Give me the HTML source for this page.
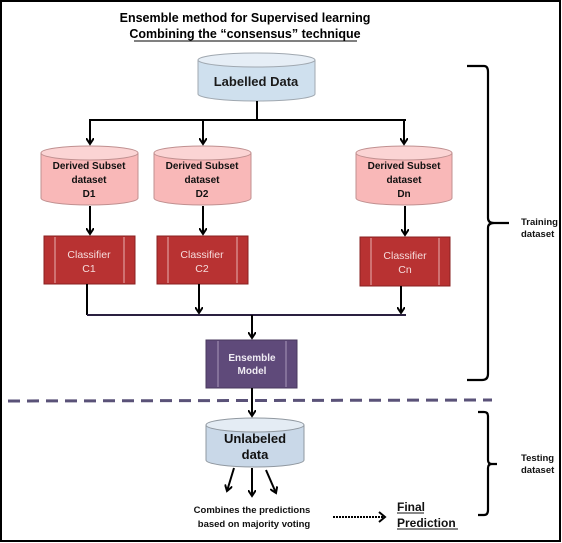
<!DOCTYPE html>
<html><head><style>
html,body{margin:0;padding:0;background:#fff;}
svg{display:block;font-family:"Liberation Sans",sans-serif;}
.b{font-weight:bold;}
</style></head><body>
<svg width="562" height="543" viewBox="0 0 562 543">
<defs>
<marker id="ar" markerWidth="8" markerHeight="8" refX="6" refY="4" orient="auto" markerUnits="userSpaceOnUse">
<path d="M0,0 L6,4 L0,8" fill="none" stroke="#000" stroke-width="2"/>
</marker>
</defs>
<rect x="1" y="1" width="559" height="540" fill="#fff" stroke="#000" stroke-width="2"/>
<text x="245" y="22" text-anchor="middle" font-size="12.5" class="b">Ensemble method for Supervised learning</text>
<text x="245" y="38" text-anchor="middle" font-size="12.5" class="b">Combining the “consensus” technique</text>
<line x1="134" y1="41" x2="357" y2="41" stroke="#000" stroke-width="1"/>

<g stroke="#a0a8b0" stroke-width="1">
<path d="M198,60 V94 A58.5,7 0 0 0 315,94 V60" fill="#cfe0ee"/>
<ellipse cx="256.5" cy="60" rx="58.5" ry="7" fill="#e6eef6"/>
</g>
<text x="256" y="86" text-anchor="middle" font-size="13" class="b" fill="#1a1a1a">Labelled Data</text>

<g stroke="#000" stroke-width="2" fill="none">
<line x1="257" y1="101" x2="257" y2="120"/>
<line x1="89" y1="120" x2="406" y2="120"/>
<line x1="90" y1="120" x2="90" y2="144" marker-end="url(#ar)"/>
<line x1="203" y1="120" x2="203" y2="144" marker-end="url(#ar)"/>
<line x1="404" y1="120" x2="404" y2="144" marker-end="url(#ar)"/>
</g>

<g stroke="#c09090" stroke-width="1">
<path d="M41,153 V198 A48.5,7 0 0 0 138,198 V153" fill="#f9b8b8"/>
<ellipse cx="89.5" cy="153" rx="48.5" ry="7" fill="#fbd4d4"/>
<path d="M154,153 V198 A48.5,7 0 0 0 251,198 V153" fill="#f9b8b8"/>
<ellipse cx="202.5" cy="153" rx="48.5" ry="7" fill="#fbd4d4"/>
<path d="M356,153 V198 A48,7 0 0 0 452,198 V153" fill="#f9b8b8"/>
<ellipse cx="404" cy="153" rx="48" ry="7" fill="#fbd4d4"/>
</g>
<g font-size="10" class="b" text-anchor="middle" fill="#111">
<text x="89" y="169">Derived Subset</text><text x="89" y="183">dataset</text><text x="89" y="197">D1</text>
<text x="202" y="169">Derived Subset</text><text x="202" y="183">dataset</text><text x="202" y="197">D2</text>
<text x="404" y="169">Derived Subset</text><text x="404" y="183">dataset</text><text x="404" y="197">Dn</text>
</g>
<g stroke="#000" stroke-width="2">
<line x1="90" y1="206" x2="90" y2="234" marker-end="url(#ar)"/>
<line x1="203" y1="206" x2="203" y2="234" marker-end="url(#ar)"/>
<line x1="405" y1="206" x2="405" y2="235" marker-end="url(#ar)"/>
</g>

<g fill="#b83232" stroke="#8a2020" stroke-width="1">
<rect x="44" y="236" width="91" height="48"/>
<rect x="157" y="236" width="91" height="48"/>
<rect x="360" y="237" width="90" height="49"/>
</g>
<g stroke="#e9b0b0" stroke-width="1">
<line x1="55" y1="237" x2="55" y2="283"/><line x1="124" y1="237" x2="124" y2="283"/>
<line x1="168" y1="237" x2="168" y2="283"/><line x1="237" y1="237" x2="237" y2="283"/>
<line x1="371" y1="238" x2="371" y2="285"/><line x1="439" y1="238" x2="439" y2="285"/>
</g>
<g font-size="10.5" text-anchor="middle" fill="#f6dcdc">
<text x="89" y="258">Classifier</text><text x="89" y="272">C1</text>
<text x="202" y="258">Classifier</text><text x="202" y="272">C2</text>
<text x="405" y="259">Classifier</text><text x="405" y="273">Cn</text>
</g>

<g stroke="#000" stroke-width="2" fill="none">
<line x1="87" y1="284" x2="87" y2="315"/>
<line x1="199" y1="284" x2="199" y2="313" marker-end="url(#ar)"/>
<line x1="401" y1="286" x2="401" y2="313" marker-end="url(#ar)"/>
<line x1="87" y1="315" x2="406" y2="315" stroke="#2a2040"/>
<line x1="252" y1="315" x2="252" y2="338" marker-end="url(#ar)"/>
</g>

<rect x="206" y="340" width="91" height="48" fill="#5f4a7a" stroke="#48385e"/>
<line x1="218" y1="341" x2="218" y2="387" stroke="#a898bb"/>
<line x1="286" y1="341" x2="286" y2="387" stroke="#a898bb"/>
<text x="252" y="361" text-anchor="middle" font-size="10" class="b" fill="#f0ecf4">Ensemble</text>
<text x="252" y="374" text-anchor="middle" font-size="10" class="b" fill="#f0ecf4">Model</text>

<line x1="8" y1="401" x2="492" y2="400" stroke="#5a5278" stroke-width="3" stroke-dasharray="12,7"/>
<line x1="252" y1="388" x2="252" y2="416" stroke="#000" stroke-width="2" marker-end="url(#ar)"/>

<g stroke="#9098a0" stroke-width="1">
<path d="M206,425 V460 A49,7 0 0 0 304,460 V425" fill="#c9d8e8"/>
<ellipse cx="255" cy="425" rx="49" ry="7" fill="#e4ecf4"/>
</g>
<text x="255" y="443" text-anchor="middle" font-size="13" class="b" fill="#111">Unlabeled</text>
<text x="255" y="459" text-anchor="middle" font-size="13" class="b" fill="#111">data</text>
<g stroke="#000" stroke-width="2">
<line x1="234" y1="468" x2="227" y2="491" marker-end="url(#ar)"/>
<line x1="252" y1="468" x2="252" y2="496" marker-end="url(#ar)"/>
<line x1="266" y1="470" x2="276" y2="493" marker-end="url(#ar)"/>
</g>
<text x="252" y="513" text-anchor="middle" font-size="9.5" class="b" fill="#111">Combines the predictions</text>
<text x="254" y="527" text-anchor="middle" font-size="9.5" class="b" fill="#111">based on majority voting</text>
<line x1="333" y1="517" x2="383" y2="517" stroke="#000" stroke-width="2" stroke-dasharray="2,1"/>
<path d="M379,512 L385,517 L379,522" fill="none" stroke="#000" stroke-width="2"/>
<text x="397" y="511" font-size="12" class="b" fill="#111">Final</text>
<text x="397" y="527" font-size="12" class="b" fill="#111">Prediction</text>
<line x1="397" y1="513" x2="424" y2="513" stroke="#111"/>
<line x1="397" y1="529" x2="458" y2="529" stroke="#111"/>

<g stroke="#000" stroke-width="2.2" fill="none">
<path d="M467,66 H484 Q488,66 488,72 V218 Q488,223 494,223 H509 M494,223 Q488,223 488,228 V374 Q488,380 482,380 H467"/>
<path d="M478,412 H484 Q488,412 488,416 V460 Q488,464 492,464 H497 M492,464 Q488,464 488,468 V510 Q488,515 484,515 H478"/>
</g>
<g font-size="9.5" class="b" fill="#111">
<text x="521" y="225">Training</text><text x="521" y="237">dataset</text>
<text x="521" y="461">Testing</text><text x="521" y="473">dataset</text>
</g>
</svg>
</body></html>
